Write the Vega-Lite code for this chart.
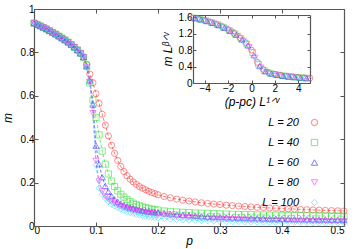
{
"$schema":"https://vega.github.io/schema/vega-lite/v6.json",
"width":310,"height":217,
"autosize":{"type":"none"},
"padding":{"left":34,"top":9,"right":12,"bottom":23},
"config":{"view":{"stroke":null},"font":"Liberation Sans",
"axis":{"grid":false,"labelFont":"Liberation Sans","labelFontSize":10,"labelColor":"#000","domainColor":"#555","domainWidth":1.2,"tickColor":"#555","tickWidth":1,"titleFont":"Liberation Sans","titleFontStyle":"italic","titleFontWeight":"normal","titleFontSize":12,"titleColor":"#000"}},
"datasets":{
"main":[
{"p":0,"m":0.935,"L":20},{"p":0.005,"m":0.929,"L":20},{"p":0.01,"m":0.922,"L":20},{"p":0.015,"m":0.915,"L":20},{"p":0.02,"m":0.908,"L":20},{"p":0.025,"m":0.9,"L":20},{"p":0.03,"m":0.892,"L":20},{"p":0.035,"m":0.884,"L":20},{"p":0.04,"m":0.875,"L":20},{"p":0.045,"m":0.866,"L":20},{"p":0.05,"m":0.857,"L":20},{"p":0.055,"m":0.847,"L":20},{"p":0.06,"m":0.836,"L":20},{"p":0.065,"m":0.824,"L":20},{"p":0.07,"m":0.811,"L":20},{"p":0.075,"m":0.796,"L":20},{"p":0.08,"m":0.778,"L":20},
{"p":0.085,"m":0.745,"L":20},{"p":0.09,"m":0.7,"L":20},{"p":0.095,"m":0.66,"L":20},{"p":0.1,"m":0.61,"L":20},{"p":0.105,"m":0.565,"L":20},{"p":0.11,"m":0.515,"L":20},{"p":0.115,"m":0.465,"L":20},{"p":0.12,"m":0.415,"L":20},{"p":0.125,"m":0.372,"L":20},{"p":0.13,"m":0.335,"L":20},{"p":0.135,"m":0.302,"L":20},{"p":0.14,"m":0.274,"L":20},{"p":0.145,"m":0.251,"L":20},{"p":0.15,"m":0.232,"L":20},{"p":0.155,"m":0.216,"L":20},{"p":0.16,"m":0.203,"L":20},{"p":0.165,"m":0.192,"L":20},{"p":0.17,"m":0.182,"L":20},{"p":0.175,"m":0.174,"L":20},{"p":0.18,"m":0.167,"L":20},{"p":0.185,"m":0.16,"L":20},{"p":0.19,"m":0.154,"L":20},{"p":0.195,"m":0.149,"L":20},{"p":0.2,"m":0.144,"L":20},{"p":0.21,"m":0.136,"L":20},{"p":0.22,"m":0.13,"L":20},{"p":0.23,"m":0.124,"L":20},{"p":0.24,"m":0.119,"L":20},{"p":0.25,"m":0.115,"L":20},{"p":0.26,"m":0.111,"L":20},{"p":0.27,"m":0.107,"L":20},{"p":0.28,"m":0.104,"L":20},{"p":0.29,"m":0.101,"L":20},{"p":0.3,"m":0.099,"L":20},{"p":0.31,"m":0.096,"L":20},{"p":0.32,"m":0.094,"L":20},{"p":0.33,"m":0.092,"L":20},{"p":0.34,"m":0.09,"L":20},{"p":0.35,"m":0.088,"L":20},{"p":0.36,"m":0.086,"L":20},{"p":0.37,"m":0.085,"L":20},{"p":0.38,"m":0.083,"L":20},{"p":0.39,"m":0.082,"L":20},{"p":0.4,"m":0.08,"L":20},{"p":0.41,"m":0.079,"L":20},{"p":0.42,"m":0.078,"L":20},{"p":0.43,"m":0.076,"L":20},{"p":0.44,"m":0.075,"L":20},{"p":0.45,"m":0.074,"L":20},{"p":0.46,"m":0.073,"L":20},{"p":0.47,"m":0.072,"L":20},{"p":0.48,"m":0.071,"L":20},{"p":0.49,"m":0.07,"L":20},{"p":0.5,"m":0.069,"L":20},
{"p":0,"m":0.935,"L":40},{"p":0.005,"m":0.929,"L":40},{"p":0.01,"m":0.922,"L":40},{"p":0.015,"m":0.915,"L":40},{"p":0.02,"m":0.908,"L":40},{"p":0.025,"m":0.9,"L":40},{"p":0.03,"m":0.892,"L":40},{"p":0.035,"m":0.884,"L":40},{"p":0.04,"m":0.875,"L":40},{"p":0.045,"m":0.866,"L":40},{"p":0.05,"m":0.857,"L":40},{"p":0.055,"m":0.847,"L":40},{"p":0.06,"m":0.836,"L":40},{"p":0.065,"m":0.824,"L":40},{"p":0.07,"m":0.811,"L":40},{"p":0.075,"m":0.796,"L":40},{"p":0.08,"m":0.778,"L":40},
{"p":0.085,"m":0.74,"L":40},{"p":0.09,"m":0.66,"L":40},{"p":0.095,"m":0.58,"L":40},{"p":0.1,"m":0.5,"L":40},{"p":0.105,"m":0.42,"L":40},{"p":0.11,"m":0.345,"L":40},{"p":0.115,"m":0.285,"L":40},{"p":0.12,"m":0.24,"L":40},{"p":0.125,"m":0.207,"L":40},{"p":0.13,"m":0.182,"L":40},{"p":0.135,"m":0.162,"L":40},{"p":0.14,"m":0.146,"L":40},{"p":0.145,"m":0.133,"L":40},{"p":0.15,"m":0.122,"L":40},{"p":0.155,"m":0.113,"L":40},{"p":0.16,"m":0.105,"L":40},{"p":0.165,"m":0.099,"L":40},{"p":0.17,"m":0.093,"L":40},{"p":0.175,"m":0.088,"L":40},{"p":0.18,"m":0.084,"L":40},{"p":0.185,"m":0.081,"L":40},{"p":0.19,"m":0.078,"L":40},{"p":0.195,"m":0.075,"L":40},{"p":0.2,"m":0.073,"L":40},{"p":0.21,"m":0.069,"L":40},{"p":0.22,"m":0.067,"L":40},{"p":0.23,"m":0.065,"L":40},{"p":0.24,"m":0.063,"L":40},{"p":0.25,"m":0.062,"L":40},{"p":0.26,"m":0.06,"L":40},{"p":0.27,"m":0.059,"L":40},{"p":0.28,"m":0.058,"L":40},{"p":0.29,"m":0.057,"L":40},{"p":0.3,"m":0.056,"L":40},{"p":0.31,"m":0.055,"L":40},{"p":0.32,"m":0.054,"L":40},{"p":0.33,"m":0.053,"L":40},{"p":0.34,"m":0.053,"L":40},{"p":0.35,"m":0.052,"L":40},{"p":0.36,"m":0.051,"L":40},{"p":0.37,"m":0.051,"L":40},{"p":0.38,"m":0.05,"L":40},{"p":0.39,"m":0.05,"L":40},{"p":0.4,"m":0.049,"L":40},{"p":0.41,"m":0.049,"L":40},{"p":0.42,"m":0.048,"L":40},{"p":0.43,"m":0.048,"L":40},{"p":0.44,"m":0.047,"L":40},{"p":0.45,"m":0.047,"L":40},{"p":0.46,"m":0.047,"L":40},{"p":0.47,"m":0.046,"L":40},{"p":0.48,"m":0.046,"L":40},{"p":0.49,"m":0.046,"L":40},{"p":0.5,"m":0.045,"L":40},
{"p":0,"m":0.935,"L":60},{"p":0.005,"m":0.929,"L":60},{"p":0.01,"m":0.922,"L":60},{"p":0.015,"m":0.915,"L":60},{"p":0.02,"m":0.908,"L":60},{"p":0.025,"m":0.9,"L":60},{"p":0.03,"m":0.892,"L":60},{"p":0.035,"m":0.884,"L":60},{"p":0.04,"m":0.875,"L":60},{"p":0.045,"m":0.866,"L":60},{"p":0.05,"m":0.857,"L":60},{"p":0.055,"m":0.847,"L":60},{"p":0.06,"m":0.836,"L":60},{"p":0.065,"m":0.824,"L":60},{"p":0.07,"m":0.811,"L":60},{"p":0.075,"m":0.796,"L":60},{"p":0.08,"m":0.778,"L":60},
{"p":0.085,"m":0.735,"L":60},{"p":0.09,"m":0.67,"L":60},{"p":0.095,"m":0.56,"L":60},{"p":0.1,"m":0.37,"L":60},{"p":0.105,"m":0.285,"L":60},{"p":0.11,"m":0.225,"L":60},{"p":0.115,"m":0.185,"L":60},{"p":0.12,"m":0.158,"L":60},{"p":0.125,"m":0.138,"L":60},{"p":0.13,"m":0.123,"L":60},{"p":0.135,"m":0.112,"L":60},{"p":0.14,"m":0.103,"L":60},{"p":0.145,"m":0.096,"L":60},{"p":0.15,"m":0.09,"L":60},{"p":0.155,"m":0.085,"L":60},{"p":0.16,"m":0.081,"L":60},{"p":0.165,"m":0.077,"L":60},{"p":0.17,"m":0.074,"L":60},{"p":0.175,"m":0.071,"L":60},{"p":0.18,"m":0.069,"L":60},{"p":0.185,"m":0.067,"L":60},{"p":0.19,"m":0.065,"L":60},{"p":0.195,"m":0.063,"L":60},{"p":0.2,"m":0.062,"L":60},{"p":0.21,"m":0.058,"L":60},{"p":0.22,"m":0.055,"L":60},{"p":0.23,"m":0.053,"L":60},{"p":0.24,"m":0.051,"L":60},{"p":0.25,"m":0.049,"L":60},{"p":0.26,"m":0.047,"L":60},{"p":0.27,"m":0.045,"L":60},{"p":0.28,"m":0.043,"L":60},{"p":0.29,"m":0.042,"L":60},{"p":0.3,"m":0.041,"L":60},{"p":0.31,"m":0.04,"L":60},{"p":0.32,"m":0.039,"L":60},{"p":0.33,"m":0.038,"L":60},{"p":0.34,"m":0.037,"L":60},{"p":0.35,"m":0.036,"L":60},{"p":0.36,"m":0.036,"L":60},{"p":0.37,"m":0.035,"L":60},{"p":0.38,"m":0.034,"L":60},{"p":0.39,"m":0.034,"L":60},{"p":0.4,"m":0.033,"L":60},{"p":0.41,"m":0.033,"L":60},{"p":0.42,"m":0.032,"L":60},{"p":0.43,"m":0.032,"L":60},{"p":0.44,"m":0.031,"L":60},{"p":0.45,"m":0.031,"L":60},{"p":0.46,"m":0.03,"L":60},{"p":0.47,"m":0.03,"L":60},{"p":0.48,"m":0.029,"L":60},{"p":0.49,"m":0.029,"L":60},{"p":0.5,"m":0.028,"L":60},
{"p":0,"m":0.935,"L":80},{"p":0.005,"m":0.929,"L":80},{"p":0.01,"m":0.922,"L":80},{"p":0.015,"m":0.915,"L":80},{"p":0.02,"m":0.908,"L":80},{"p":0.025,"m":0.9,"L":80},{"p":0.03,"m":0.892,"L":80},{"p":0.035,"m":0.884,"L":80},{"p":0.04,"m":0.875,"L":80},{"p":0.045,"m":0.866,"L":80},{"p":0.05,"m":0.857,"L":80},{"p":0.055,"m":0.847,"L":80},{"p":0.06,"m":0.836,"L":80},{"p":0.065,"m":0.824,"L":80},{"p":0.07,"m":0.811,"L":80},{"p":0.075,"m":0.796,"L":80},{"p":0.08,"m":0.778,"L":80},
{"p":0.085,"m":0.733,"L":80},{"p":0.09,"m":0.665,"L":80},{"p":0.095,"m":0.52,"L":80},{"p":0.1,"m":0.3,"L":80},{"p":0.105,"m":0.205,"L":80},{"p":0.11,"m":0.16,"L":80},{"p":0.115,"m":0.136,"L":80},{"p":0.12,"m":0.122,"L":80},{"p":0.125,"m":0.112,"L":80},{"p":0.13,"m":0.104,"L":80},{"p":0.135,"m":0.097,"L":80},{"p":0.14,"m":0.091,"L":80},{"p":0.145,"m":0.086,"L":80},{"p":0.15,"m":0.081,"L":80},{"p":0.155,"m":0.077,"L":80},{"p":0.16,"m":0.073,"L":80},{"p":0.165,"m":0.07,"L":80},{"p":0.17,"m":0.067,"L":80},{"p":0.175,"m":0.064,"L":80},{"p":0.18,"m":0.062,"L":80},{"p":0.185,"m":0.06,"L":80},{"p":0.19,"m":0.058,"L":80},{"p":0.195,"m":0.056,"L":80},{"p":0.2,"m":0.054,"L":80},{"p":0.21,"m":0.051,"L":80},{"p":0.22,"m":0.048,"L":80},{"p":0.23,"m":0.045,"L":80},{"p":0.24,"m":0.043,"L":80},{"p":0.25,"m":0.041,"L":80},{"p":0.26,"m":0.039,"L":80},{"p":0.27,"m":0.037,"L":80},{"p":0.28,"m":0.035,"L":80},{"p":0.29,"m":0.034,"L":80},{"p":0.3,"m":0.033,"L":80},{"p":0.31,"m":0.032,"L":80},{"p":0.32,"m":0.031,"L":80},{"p":0.33,"m":0.03,"L":80},{"p":0.34,"m":0.029,"L":80},{"p":0.35,"m":0.028,"L":80},{"p":0.36,"m":0.027,"L":80},{"p":0.37,"m":0.026,"L":80},{"p":0.38,"m":0.026,"L":80},{"p":0.39,"m":0.025,"L":80},{"p":0.4,"m":0.025,"L":80},{"p":0.41,"m":0.024,"L":80},{"p":0.42,"m":0.024,"L":80},{"p":0.43,"m":0.023,"L":80},{"p":0.44,"m":0.023,"L":80},{"p":0.45,"m":0.022,"L":80},{"p":0.46,"m":0.022,"L":80},{"p":0.47,"m":0.022,"L":80},{"p":0.48,"m":0.021,"L":80},{"p":0.49,"m":0.021,"L":80},{"p":0.5,"m":0.021,"L":80},
{"p":0,"m":0.935,"L":100},{"p":0.005,"m":0.929,"L":100},{"p":0.01,"m":0.922,"L":100},{"p":0.015,"m":0.915,"L":100},{"p":0.02,"m":0.908,"L":100},{"p":0.025,"m":0.9,"L":100},{"p":0.03,"m":0.892,"L":100},{"p":0.035,"m":0.884,"L":100},{"p":0.04,"m":0.875,"L":100},{"p":0.045,"m":0.866,"L":100},{"p":0.05,"m":0.857,"L":100},{"p":0.055,"m":0.847,"L":100},{"p":0.06,"m":0.836,"L":100},{"p":0.065,"m":0.824,"L":100},{"p":0.07,"m":0.811,"L":100},{"p":0.075,"m":0.796,"L":100},{"p":0.08,"m":0.778,"L":100},
{"p":0.085,"m":0.73,"L":100},{"p":0.09,"m":0.66,"L":100},{"p":0.095,"m":0.55,"L":100},{"p":0.1,"m":0.28,"L":100},{"p":0.105,"m":0.175,"L":100},{"p":0.11,"m":0.145,"L":100},{"p":0.115,"m":0.127,"L":100},{"p":0.12,"m":0.113,"L":100},{"p":0.125,"m":0.101,"L":100},{"p":0.13,"m":0.092,"L":100},{"p":0.135,"m":0.085,"L":100},{"p":0.14,"m":0.078,"L":100},{"p":0.145,"m":0.072,"L":100},{"p":0.15,"m":0.067,"L":100},{"p":0.155,"m":0.062,"L":100},{"p":0.16,"m":0.058,"L":100},{"p":0.165,"m":0.054,"L":100},{"p":0.17,"m":0.051,"L":100},{"p":0.175,"m":0.048,"L":100},{"p":0.18,"m":0.045,"L":100},{"p":0.185,"m":0.043,"L":100},{"p":0.19,"m":0.041,"L":100},{"p":0.195,"m":0.039,"L":100},{"p":0.2,"m":0.037,"L":100},{"p":0.21,"m":0.034,"L":100},{"p":0.22,"m":0.032,"L":100},{"p":0.23,"m":0.03,"L":100},{"p":0.24,"m":0.028,"L":100},{"p":0.25,"m":0.027,"L":100},{"p":0.26,"m":0.026,"L":100},{"p":0.27,"m":0.025,"L":100},{"p":0.28,"m":0.024,"L":100},{"p":0.29,"m":0.023,"L":100},{"p":0.3,"m":0.022,"L":100},{"p":0.31,"m":0.021,"L":100},{"p":0.32,"m":0.02,"L":100},{"p":0.33,"m":0.02,"L":100},{"p":0.34,"m":0.019,"L":100},{"p":0.35,"m":0.019,"L":100},{"p":0.36,"m":0.018,"L":100},{"p":0.37,"m":0.018,"L":100},{"p":0.38,"m":0.017,"L":100},{"p":0.39,"m":0.017,"L":100},{"p":0.4,"m":0.016,"L":100},{"p":0.41,"m":0.016,"L":100},{"p":0.42,"m":0.016,"L":100},{"p":0.43,"m":0.015,"L":100},{"p":0.44,"m":0.015,"L":100},{"p":0.45,"m":0.015,"L":100},{"p":0.46,"m":0.014,"L":100},{"p":0.47,"m":0.014,"L":100},{"p":0.48,"m":0.014,"L":100},{"p":0.49,"m":0.014,"L":100},{"p":0.5,"m":0.013,"L":100}
],
"inset":[
{"s":-5,"y":1.58,"L":20},{"s":-4.5,"y":1.55,"L":20},{"s":-4,"y":1.52,"L":20},{"s":-3.5,"y":1.475,"L":20},{"s":-3,"y":1.425,"L":20},{"s":-2.5,"y":1.365,"L":20},{"s":-2,"y":1.295,"L":20},{"s":-1.5,"y":1.21,"L":20},{"s":-1,"y":1.1,"L":20},{"s":-0.5,"y":0.98,"L":20},{"s":0,"y":0.8,"L":20},{"s":0.5,"y":0.5,"L":20},{"s":1,"y":0.33,"L":20},{"s":1.5,"y":0.25,"L":20},{"s":2,"y":0.215,"L":20},{"s":2.5,"y":0.19,"L":20},{"s":3,"y":0.17,"L":20},{"s":3.5,"y":0.155,"L":20},{"s":4,"y":0.14,"L":20},{"s":4.5,"y":0.13,"L":20},{"s":5,"y":0.12,"L":20},
{"s":-4.9,"y":1.575,"L":40},{"s":-4.4,"y":1.545,"L":40},{"s":-3.9,"y":1.51,"L":40},{"s":-3.4,"y":1.465,"L":40},{"s":-2.9,"y":1.415,"L":40},{"s":-2.4,"y":1.352,"L":40},{"s":-1.9,"y":1.278,"L":40},{"s":-1.4,"y":1.19,"L":40},{"s":-0.9,"y":1.076,"L":40},{"s":-0.4,"y":0.944,"L":40},{"s":0.1,"y":0.74,"L":40},{"s":0.6,"y":0.456,"L":40},{"s":1.1,"y":0.3,"L":40},{"s":1.6,"y":0.237,"L":40},{"s":2.1,"y":0.205,"L":40},{"s":2.6,"y":0.178,"L":40},{"s":3.1,"y":0.16,"L":40},{"s":3.6,"y":0.145,"L":40},{"s":4.1,"y":0.131,"L":40},{"s":4.6,"y":0.121,"L":40},
{"s":-4.8,"y":1.57,"L":60},{"s":-4.3,"y":1.54,"L":60},{"s":-3.8,"y":1.5,"L":60},{"s":-3.3,"y":1.455,"L":60},{"s":-2.8,"y":1.4,"L":60},{"s":-2.3,"y":1.337,"L":60},{"s":-1.8,"y":1.26,"L":60},{"s":-1.3,"y":1.166,"L":60},{"s":-0.8,"y":1.052,"L":60},{"s":-0.3,"y":0.908,"L":60},{"s":0.2,"y":0.672,"L":60},{"s":0.7,"y":0.41,"L":60},{"s":1.2,"y":0.28,"L":60},{"s":1.7,"y":0.225,"L":60},{"s":2.2,"y":0.193,"L":60},{"s":2.7,"y":0.17,"L":60},{"s":3.2,"y":0.153,"L":60},{"s":3.7,"y":0.14,"L":60},{"s":4.2,"y":0.126,"L":60},{"s":4.7,"y":0.115,"L":60},
{"s":-4.7,"y":1.565,"L":80},{"s":-4.2,"y":1.53,"L":80},{"s":-3.7,"y":1.49,"L":80},{"s":-3.2,"y":1.445,"L":80},{"s":-2.7,"y":1.39,"L":80},{"s":-2.2,"y":1.322,"L":80},{"s":-1.7,"y":1.245,"L":80},{"s":-1.2,"y":1.144,"L":80},{"s":-0.7,"y":1.028,"L":80},{"s":-0.2,"y":0.872,"L":80},{"s":0.3,"y":0.612,"L":80},{"s":0.8,"y":0.375,"L":80},{"s":1.3,"y":0.265,"L":80},{"s":1.8,"y":0.218,"L":80},{"s":2.3,"y":0.188,"L":80},{"s":2.8,"y":0.166,"L":80},{"s":3.3,"y":0.15,"L":80},{"s":3.8,"y":0.136,"L":80},{"s":4.3,"y":0.122,"L":80},{"s":4.8,"y":0.112,"L":80},
{"s":-4.6,"y":1.56,"L":100},{"s":-4.1,"y":1.525,"L":100},{"s":-3.6,"y":1.485,"L":100},{"s":-3.1,"y":1.435,"L":100},{"s":-2.6,"y":1.377,"L":100},{"s":-2.1,"y":1.31,"L":100},{"s":-1.6,"y":1.228,"L":100},{"s":-1.1,"y":1.122,"L":100},{"s":-0.6,"y":1.004,"L":100},{"s":-0.1,"y":0.836,"L":100},{"s":0.4,"y":0.556,"L":100},{"s":0.9,"y":0.345,"L":100},{"s":1.4,"y":0.255,"L":100},{"s":1.9,"y":0.212,"L":100},{"s":2.4,"y":0.183,"L":100},{"s":2.9,"y":0.163,"L":100},{"s":3.4,"y":0.147,"L":100},{"s":3.9,"y":0.133,"L":100},{"s":4.4,"y":0.12,"L":100},{"s":4.9,"y":0.11,"L":100}
]},
"layer":[
{"data":{"name":"main"},
 "layer":[
  {"mark":{"type":"line","strokeWidth":0.7,"strokeDash":[3,2]},
   "encoding":{
    "x":{"field":"p","type":"quantitative","scale":{"domain":[0,0.5],"nice":false,"zero":false},"axis":{"orient":"bottom","values":[0,0.1,0.2,0.3,0.4,0.5],"format":".1~f","tickSize":-4,"labelPadding":3,"title":"p","titlePadding":0}},
    "y":{"field":"m","type":"quantitative","scale":{"domain":[0,1],"nice":false,"zero":false},"axis":{"orient":"left","values":[0,0.2,0.4,0.6,0.8,1],"format":".1~f","tickSize":-4,"labelPadding":4,"title":"m","titlePadding":6}},
    "stroke":{"field":"L","type":"nominal","scale":{"domain":[100,80,60,40,20],"range":["#33ddff","#ff33ff","#3333ff","#33dd33","#ff3333"]},"legend":null},
    "detail":{"field":"L"}}},
  {"mark":{"type":"point","filled":false,"strokeWidth":0.8,"size":38},
   "encoding":{
    "x":{"field":"p","type":"quantitative","axis":null},
    "y":{"field":"m","type":"quantitative","axis":null},
    "color":{"field":"L","type":"nominal","scale":{"domain":[20,40,60,80,100],"range":["#ff3333","#33dd33","#3333ff","#ff33ff","#33ddff"]},
      "legend":{"orient":"none","legendX":275,"legendY":108,"title":null,"labelExpr":"'L = ' + datum.label","labelFont":"Liberation Sans","labelFontStyle":"italic","labelFontSize":11,"labelColor":"#000","labelAlign":"right","labelOffset":-21,"rowPadding":8,"symbolStrokeWidth":0.9,"symbolSize":40}},
    "shape":{"field":"L","type":"nominal","scale":{"domain":[20,40,60,80,100],"range":["circle","square","triangle-up","triangle-down","diamond"]},
      "legend":{"orient":"none","legendX":275,"legendY":108,"title":null,"labelExpr":"'L = ' + datum.label","labelFont":"Liberation Sans","labelFontStyle":"italic","labelFontSize":11,"labelColor":"#000","labelAlign":"right","labelOffset":-21,"rowPadding":8,"symbolStrokeWidth":0.9,"symbolSize":40}}}},
  {"mark":{"type":"point","size":0,"strokeOpacity":0},
   "encoding":{
    "x":{"field":"p","type":"quantitative","axis":{"orient":"top","values":[0,0.1,0.2,0.3,0.4,0.5],"labels":false,"tickSize":-4,"title":null}},
    "y":{"field":"m","type":"quantitative","axis":{"orient":"right","values":[0,0.2,0.4,0.6,0.8,1],"labels":false,"tickSize":-4,"title":null}}}}
 ],
 "resolve":{"axis":{"x":"independent","y":"independent"}}
},
{"data":{"name":"inset"},
 "layer":[
  {"mark":{"type":"point","filled":false,"strokeWidth":0.8,"size":34},
   "encoding":{
    "x":{"field":"s","type":"quantitative","scale":{"domain":[-5,5],"range":[159,276],"nice":false,"zero":false},"axis":{"orient":"bottom","offset":-143,"values":[-4,-2,0,2,4],"tickSize":-3,"labelPadding":3,"title":"(p-pc) L¹ᐟᵛ","titlePadding":3}},
    "y":{"field":"y","type":"quantitative","scale":{"domain":[0,1.65],"range":[74,6],"nice":false,"zero":false},"axis":{"orient":"left","offset":-159,"values":[0,0.4,0.8,1.2,1.6],"format":".1~f","tickSize":-3,"labelPadding":4,"title":"m Lᵝᐟᵛ","titlePadding":4}},
    "color":{"field":"L","type":"nominal"},
    "shape":{"field":"L","type":"nominal"}}},
  {"mark":{"type":"point","size":0,"strokeOpacity":0},
   "encoding":{
    "x":{"field":"s","type":"quantitative","axis":{"orient":"top","offset":-6,"values":[-4,-2,0,2,4],"labels":false,"tickSize":-3,"title":null}},
    "y":{"field":"y","type":"quantitative","axis":{"orient":"right","offset":-34,"values":[0,0.4,0.8,1.2,1.6],"labels":false,"tickSize":-3,"title":null}}}}
 ],
 "resolve":{"axis":{"x":"independent","y":"independent"}}
}
],
"resolve":{"scale":{"x":"independent","y":"independent"},"axis":{"x":"independent","y":"independent"}}
}
